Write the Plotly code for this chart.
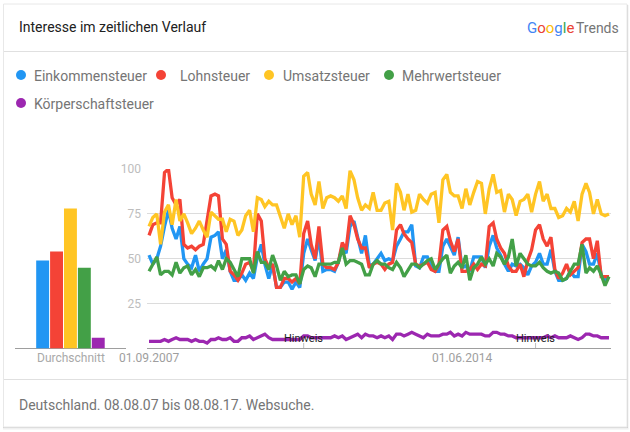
"""Google Trends style chart: five German tax terms over ten years"""
import pandas as pd
import plotly.graph_objects as go

# Chart data (monthly, 01.09.2007 to 01.08.2017)
months = pd.date_range("2007-09-01", periods=120, freq="MS")

einkommen = [52, 47, 50, 57, 68, 77, 67, 61, 68, 50,
             47, 45, 52, 43, 47, 50, 62, 63, 65, 50,
             55, 43, 38, 38, 41, 38, 42, 39, 51, 58,
             47, 39, 47, 34, 34, 37, 37, 33, 37, 34,
             53, 61, 55, 49, 62, 43, 44, 44, 43, 48,
             57, 53, 68, 71, 62, 53, 63, 46,
             47, 50, 53, 49, 50, 49, 57, 61, 65, 65,
             69, 46, 45, 51, 51, 46, 43, 43, 57, 61,
             57, 52, 62, 45, 46, 43, 51, 51, 51, 45,
             57, 63, 56, 52, 47, 43, 47, 46, 47, 45,
             41, 46, 48, 53, 47, 47, 55, 43, 38, 38,
             39, 43, 40, 40, 58, 54, 47, 47, 53, 41,
             38, 40]

lohn = [63, 69, 70, 70, 98, 100, 84, 80, 83, 58,
        56, 57, 55, 57, 58, 71, 85, 86, 85, 61,
        58, 43, 41, 38, 42, 47, 48, 43, 75, 71,
        50, 45, 47, 34, 34, 39, 39, 37, 39, 36,
        64, 71, 58, 50, 68, 47, 45, 45, 44, 48,
        59, 55, 74, 69, 61, 56, 56, 45,
        47, 48, 47, 44, 47, 48, 66, 69, 64, 61,
        59, 47, 46, 47, 48, 44, 43, 47, 66, 68,
        60, 54, 61, 43, 43, 44, 47, 44, 47, 46,
        68, 70, 61, 56, 53, 46, 43, 43, 47, 40,
        49, 55, 66, 69, 61, 57, 62, 44, 39, 42,
        47, 41, 43, 45, 59, 61, 61, 50, 60, 40,
        40, 40]

umsatz = [68, 73, 75, 58, 76, 80, 69, 83, 71, 75,
          70, 64, 67, 71, 66, 62, 76, 74, 72, 72,
          65, 72, 71, 63, 66, 74, 77, 65, 84, 83,
          79, 82, 80, 80, 74, 67, 75, 69, 74, 62,
          96, 98, 86, 80, 93, 78, 84, 85, 84, 82,
          85, 78, 99, 94, 84, 77, 80, 78,
          87, 77, 77, 81, 82, 66, 92, 87, 77, 86,
          76, 77, 86, 83, 81, 86, 87, 70, 94, 97,
          87, 85, 85, 78, 89, 80, 87, 93, 92, 75,
          89, 97, 87, 88, 76, 86, 83, 74, 82, 83,
          86, 76, 86, 93, 82, 86, 78, 78, 73, 74,
          78, 76, 82, 71, 86, 92, 87, 75, 83, 75,
          74, 75]

mehrwert = [43, 47, 51, 41, 43, 43, 41, 48, 42, 45,
            46, 41, 44, 40, 45, 45, 46, 44, 49, 44,
            50, 48, 44, 40, 50, 50, 50, 42, 54, 48,
            48, 44, 52, 46, 38, 43, 40, 41, 41, 36,
            44, 46, 45, 40, 47, 47, 47, 47, 48, 48,
            56, 47, 49, 49, 48, 47, 41, 41,
            47, 49, 47, 47, 45, 44, 48, 45, 40, 44,
            47, 47, 45, 47, 49, 50, 44, 47, 50, 52,
            42, 46, 48, 45, 52, 38, 45, 47, 51, 47,
            50, 46, 53, 51, 47, 51, 61, 46, 53, 50,
            47, 46, 46, 48, 45, 43, 42, 43, 42, 38,
            39, 43, 47, 47, 58, 42, 45, 43, 46, 41,
            35, 40]

koerperschaft = [4, 4, 4, 4, 5, 4, 5, 6, 5, 5,
                 5, 4, 5, 4, 4, 3, 5, 5, 6, 5,
                 5, 6, 4, 4, 6, 6, 7, 5, 6, 7,
                 8, 6, 5, 5, 5, 5, 5, 5, 5, 5,
                 7, 7, 6, 6, 6, 6, 6, 6, 7, 6,
                 7, 5, 6, 7, 8, 6, 8, 7,
                 7, 6, 7, 6, 7, 5, 8, 8, 7, 8,
                 9, 8, 7, 6, 8, 7, 7, 7, 8, 8,
                 9, 7, 8, 7, 9, 8, 8, 8, 8, 7,
                 7, 9, 9, 8, 8, 7, 7, 6, 6, 6,
                 6, 6, 6, 6, 6, 7, 6, 7, 6, 6,
                 6, 7, 6, 5, 6, 8, 8, 7, 7, 6,
                 6, 6]

names = ["Einkommensteuer", "Lohnsteuer", "Umsatzsteuer", "Mehrwertsteuer", "Körperschaftsteuer"]
colors = ["#2196f3", "#f44336", "#ffc524", "#43a047", "#9c27b0"]
averages = [49, 54, 78, 45, 6]
series = [einkommen, lohn, umsatz, mehrwert, koerperschaft]

y_ticks = [25, 50, 75, 100]
date_ticks = ["2007-09-01", "2014-06-01"]
note_dates = ["2011-01-01", "2016-01-01"]

GREY = "#757575"
W, H = 630, 432


def px(x):
    """Pixel column to paper fraction"""
    return x / W


def py(y):
    """Pixel row to paper fraction"""
    return 1 - y / H


def paper_rect(x0, y0, x1, y1, **kwargs):
    return dict(type="rect", xref="paper", yref="paper", layer="below",
                x0=px(x0), y0=py(y0), x1=px(x1), y1=py(y1), **kwargs)


def paper_line(x0, y0, x1, y1, color, width=1):
    return dict(type="line", xref="paper", yref="paper", layer="below",
                x0=px(x0), y0=py(y0), x1=px(x1), y1=py(y1),
                line=dict(color=color, width=width))


def paper_text(x, y, text, size=14, color=GREY, anchor="left"):
    return dict(xref="paper", yref="paper", x=px(x), y=py(y), text=text,
                showarrow=False, xanchor=anchor, yanchor="middle",
                font=dict(family="Roboto", size=size, color=color))


fig = go.Figure()

# Average bars on the left, on their own y axis so the grid stays out of them
for name, color, avg in zip(names, colors, averages):
    fig.add_trace(go.Bar(x=[name], y=[avg], xaxis="x2", yaxis="y2", width=0.93,
                         marker=dict(color=color, line=dict(width=0)), showlegend=False))

# The lines
for name, color, values in zip(names, colors, series):
    fig.add_trace(go.Scatter(x=months, y=values, mode="lines", name=name, showlegend=False,
                             cliponaxis=False, line=dict(color=color, width=3.3)))

# Card, soft shadow and dividers
shapes = [
    paper_rect(3, 5, 628.5, 429.5, fillcolor="#f0f0f0", line=dict(width=0)),
    paper_rect(3, 5, 628, 428, fillcolor="#d2d2d2", line=dict(width=0)),
    paper_rect(3.5, 4, 627, 427, fillcolor="white", line=dict(color="#e8e8e8", width=1)),
    paper_line(4, 51.5, 627, 51.5, "#e0e0e0"),
    paper_line(4, 379.5, 627, 379.5, "#e0e0e0"),
    paper_line(15, 348.5, 126, 348.5, "#9e9e9e"),
    paper_line(147, 348.5, 611, 348.5, "#9e9e9e"),
]

# Legend dots
annotations = []
dot_x = [21, 161, 269, 389, 21]
dot_y = [75, 75, 75, 75, 103]
label_x = [32, 178, 281, 400, 32]
for name, color, cx, cy, lx in zip(names, colors, dot_x, dot_y, label_x):
    shapes.append(dict(type="circle", xref="paper", yref="paper", fillcolor=color,
                       line=dict(width=0), x0=px(cx - 5), x1=px(cx + 5),
                       y0=py(cy + 5), y1=py(cy - 5)))
    annotations.append(paper_text(lx, cy + 1, name))

# Note ticks and labels
for note in note_dates:
    shapes.append(dict(type="line", xref="x", yref="paper", x0=note, x1=note,
                       y0=py(348), y1=py(343), line=dict(color="#bdbdbd", width=1)))
    annotations.append(dict(xref="x", yref="paper", x=note, y=py(338), text="Hinweis",
                            showarrow=False, yanchor="middle",
                            font=dict(family="Roboto", size=11, color="#212121")))

annotations += [
    paper_text(17, 27, "Interesse im zeitlichen Verlauf", color="#212121"),
    paper_text(17, 405, "Deutschland. 08.08.07 bis 08.08.17. Websuche."),
    paper_text(70.5, 358, "Durchschnitt", size=12, color="#a9a9a9", anchor="center"),
    paper_text(525, 28,
               '<span style="color:#4285f4">G</span><span style="color:#ea4335">o</span>'
               '<span style="color:#fbbc05">o</span><span style="color:#4285f4">g</span>'
               '<span style="color:#34a853">l</span><span style="color:#ea4335">e</span>',
               size=15),
    paper_text(574, 28.5, "Trends", size=14),
]

fig.update_layout(
    width=W, height=H,
    margin=dict(l=0, r=0, t=0, b=0, autoexpand=False),
    paper_bgcolor="white", plot_bgcolor="rgba(0,0,0,0)",
    font=dict(family="Roboto"),
    shapes=shapes, annotations=annotations,
    xaxis=dict(domain=[px(147), px(611)], range=["2007-08-16", "2017-08-17"], automargin=False,
               tickmode="array", tickvals=date_ticks, tickformat="%d.%m.%Y",
               showgrid=False, zeroline=False, showline=False, ticks="",
               tickfont=dict(size=12, color="#9e9e9e"), anchor="y"),
    xaxis2=dict(domain=[px(35.7), px(105.2)], range=[-0.5, 4.5], type="category", automargin=False,
                showticklabels=False, showgrid=False, zeroline=False, ticks="", anchor="y2"),
    yaxis=dict(domain=[py(348.5), py(169)], range=[0, 100], tickmode="array", tickvals=y_ticks,
               automargin=False, showgrid=True, gridcolor="#dcdcdc", gridwidth=1,
               zeroline=False, showline=False, ticks="", ticklabelstandoff=5,
               tickfont=dict(size=12, color="#bdbdbd"), anchor="x"),
    yaxis2=dict(domain=[py(348.5), py(169)], range=[0, 100], automargin=False, showgrid=False,
                zeroline=False, showline=False, showticklabels=False, ticks="", anchor="x2"),
)

fig.write_html("out.html", config=dict(displayModeBar=False),
               post_script="document.body.style.margin='0';")
